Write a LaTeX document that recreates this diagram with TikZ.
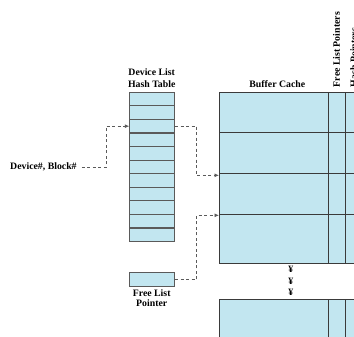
\documentclass[tikz,border=0pt]{standalone}
\usepackage{fontspec}
\setmainfont{Liberation Serif}
\usetikzlibrary{arrows.meta,calc}
\definecolor{cellfill}{HTML}{C2E6F0}
\definecolor{edge}{HTML}{5A5A5A}
\definecolor{inner}{HTML}{3A3A3A}
\begin{document}
\begin{tikzpicture}[x=1pt,y=-1pt,
  lbl/.style={font=\bfseries\fontsize{9.8}{11}\selectfont, inner sep=0pt},
  hcell/.style={draw=edge, fill=cellfill, line width=1.1pt, minimum width=44.7pt, minimum height=13.57pt, inner sep=0pt, anchor=north west},
  bcell/.style={draw=inner, fill=cellfill, line width=0.8pt, inner sep=0pt, anchor=north west},
  link/.style={draw=edge, dash pattern=on 3pt off 2.5pt, line width=0.9pt, -{Latex[length=4.5pt,width=4pt]}}
]
\clip (0,0) rectangle (354,337);
\fill[white] (0,0) rectangle (354,337);
% hash table
\foreach \i in {1,...,11}
  \node[hcell] (h\i) at (129.3, {91.7+(\i-1)*13.57}) {};
% free list pointer box
\node[hcell, minimum height=13.7pt] (fl) at (129.3,272.3) {};
% buffer cache
\foreach \n/\t/\h in {1/91.7/40.6, 2/132.3/40.4, 3/172.7/41.6, 4/214.3/49, 5/299.3/50}
{
  \node[bcell, minimum width=108.7pt, minimum height=\h pt] (b\n) at (219,\t) {};
  \node[bcell, minimum width=17.6pt, minimum height=\h pt] (f\n) at (327.7,\t) {};
  \node[bcell, minimum width=30pt, minimum height=\h pt] (p\n) at (345.3,\t) {};
}
% labels
\node[lbl, anchor=base] (t1) at (151.7,76) {Device List};
\node[lbl, anchor=base] (t2) at (151.7,88) {Hash Table};
\node[lbl, anchor=base] (t3) at (277.3,88) {Buffer Cache};
\node[lbl, anchor=base west, rotate=90] (t4) at (339.8,87.3) {Free List Pointers};
\node[lbl, anchor=base west, rotate=90] (t5) at (357,87.3) {Hash Pointers};
\node[lbl, anchor=base] (t6) at (151.7,296.7) {Free List};
\node[lbl, anchor=base] (t7) at (151.7,306.5) {Pointer};
\node[lbl, anchor=base west] (dev) at (10,169.3) {Device\#, Block\#};
\node[lbl] (y1) at (290.7,269.3) {¥};
\node[lbl] (y2) at (290.7,281.0) {¥};
\node[lbl] (y3) at (290.7,292.4) {¥};
% connectors
\coordinate (d0) at ($(dev.east)+(5,0.8)$);
\draw[link] (d0) -| ($(h3.west)+(-23.3,0)$) -- (h3.west);
\coordinate (a2) at ($(b3.north west)+(0,2.6)$);
\draw[link] (h3.east) -| ($(a2)+(-22.3,0)$) -- (a2);
\coordinate (a3) at ($(b4.north west)+(0,1)$);
\draw[link] (fl.east) -| ($(a3)+(-22.3,0)$) -- (a3);
\end{tikzpicture}
\end{document}
